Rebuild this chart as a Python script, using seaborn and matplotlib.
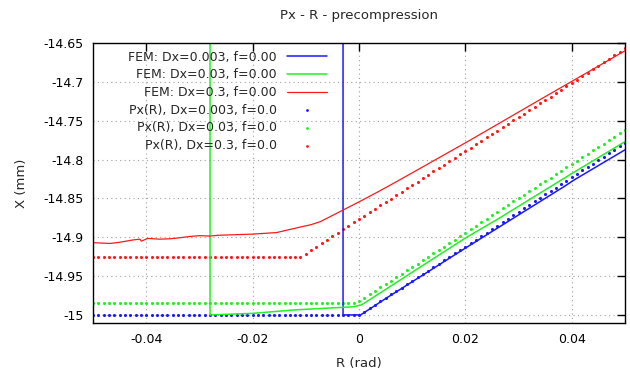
import numpy as np
import matplotlib
matplotlib.use("Agg")
import matplotlib.pyplot as plt
import seaborn as sns

# --- FEM results ---
fem_r_003 = [-0.003, -0.003, 0.0003, 0.005, 0.02, 0.0385, 0.0405, 0.05]
fem_x_003 = [-14.6, -15.0, -15.0, -14.979, -14.914, -14.835, -14.826, -14.7875]

fem_r_03 = [-0.028, -0.028, -0.02, -0.012, -0.001, 0.0005, 0.02, 0.026, 0.04, 0.05]
fem_x_03 = [-14.6, -15.0, -14.998, -14.9935, -14.9895, -14.987, -14.901, -14.877, -14.818, -14.777]

fem_r_3 = [-0.05, -0.0468, -0.045, -0.0425, -0.0412, -0.0409, -0.0397, -0.0375, -0.0355,
           -0.0335, -0.0318, -0.03, -0.028, -0.0265, -0.02, -0.0155, -0.0111, -0.009,
           -0.0073, -0.0055, -0.003, 0.0, 0.004, 0.0077, 0.0209, 0.034, 0.05]
fem_x_3 = [-14.907, -14.908, -14.9065, -14.9035, -14.9025, -14.905, -14.9015, -14.9025, -14.902,
           -14.9005, -14.899, -14.898, -14.8985, -14.8975, -14.896, -14.894, -14.887, -14.8838,
           -14.880, -14.8738, -14.865, -14.8545, -14.840, -14.826, -14.775, -14.723, -14.66]

# --- Px(R) curves, sampled every 0.001 rad ---
r_grid = np.linspace(-0.05, 0.05, 101)

px_003 = [-15.0] * 51 + [
    -14.996, -14.991, -14.987, -14.982, -14.978, -14.973, -14.969, -14.965, -14.960, -14.956,
    -14.951, -14.947, -14.943, -14.938, -14.934, -14.929, -14.925, -14.920, -14.916, -14.912,
    -14.907, -14.903, -14.898, -14.894, -14.889, -14.885, -14.881, -14.876, -14.872, -14.867,
    -14.863, -14.859, -14.854, -14.850, -14.845, -14.841, -14.836, -14.832, -14.828, -14.823,
    -14.819, -14.814, -14.810, -14.806, -14.801, -14.797, -14.792, -14.788, -14.783, -14.779]

px_03 = [-14.985] * 50 + [
    -14.982,
    -14.978, -14.973, -14.969, -14.964, -14.960, -14.956, -14.951, -14.947, -14.942, -14.938,
    -14.934, -14.929, -14.925, -14.920, -14.916, -14.912, -14.907, -14.903, -14.898, -14.894,
    -14.890, -14.885, -14.881, -14.876, -14.872, -14.868, -14.863, -14.859, -14.854, -14.850,
    -14.846, -14.841, -14.837, -14.832, -14.828, -14.824, -14.819, -14.815, -14.810, -14.806,
    -14.802, -14.797, -14.793, -14.788, -14.784, -14.780, -14.775, -14.771, -14.766, -14.762]

px_3 = [-14.926] * 39 + [
    -14.925, -14.921, -14.917, -14.912, -14.908, -14.903, -14.899, -14.895, -14.890, -14.886,
    -14.881, -14.877, -14.873, -14.868, -14.864, -14.859, -14.855, -14.851, -14.846, -14.842,
    -14.837, -14.833, -14.829, -14.824, -14.820, -14.815, -14.811, -14.807, -14.802, -14.798,
    -14.793, -14.789, -14.785, -14.780, -14.776, -14.771, -14.767, -14.763, -14.758, -14.754,
    -14.749, -14.745, -14.741, -14.736, -14.732, -14.727, -14.723, -14.719, -14.714, -14.710,
    -14.705, -14.701, -14.697, -14.692, -14.688, -14.683, -14.679, -14.675, -14.670, -14.666,
    -14.661, -14.657]

x_ticks = [-0.04, -0.02, 0, 0.02, 0.04]
x_tick_labels = ["-0.04", "-0.02", "0", "0.02", "0.04"]
y_ticks = [-15, -14.95, -14.9, -14.85, -14.8, -14.75, -14.7, -14.65]
y_tick_labels = ["-15", "-14.95", "-14.9", "-14.85", "-14.8", "-14.75", "-14.7", "-14.65"]

sns.set_style("white")
plt.rcParams['font.family'] = ['DejaVu Sans']
plt.rcParams['font.size'] = 9

fig = plt.figure(figsize=(6.3, 3.74), dpi=100)
ax = fig.add_axes([93 / 630, 1 - 323 / 374, 532 / 630, 280 / 374])

blue, green, red = '#1a1aff', '#22f022', '#ff1a1a'

sns.lineplot(x=fem_r_003, y=fem_x_003, sort=False, estimator=None, color=blue, lw=1.1,
             label='FEM: Dx=0.003, f=0.00', ax=ax)
sns.lineplot(x=fem_r_03, y=fem_x_03, sort=False, estimator=None, color=green, lw=1.1,
             label='FEM: Dx=0.03, f=0.00', ax=ax)
sns.lineplot(x=fem_r_3, y=fem_x_3, sort=False, estimator=None, color=red, lw=0.9,
             label='FEM: Dx=0.3, f=0.00', ax=ax)

sns.scatterplot(x=r_grid, y=px_003, color=blue, marker='o', s=5, linewidth=0,
                label='Px(R), Dx=0.003, f=0.0', ax=ax)
sns.scatterplot(x=r_grid, y=px_03, color=green, marker='o', s=5, linewidth=0,
                label='Px(R), Dx=0.03, f=0.0', ax=ax)
sns.scatterplot(x=r_grid, y=px_3, color=red, marker='o', s=5, linewidth=0,
                label='Px(R), Dx=0.3, f=0.0', ax=ax)

ax.set_xlim(-0.05, 0.05)
ax.set_ylim(-15.0104, -14.65)
ax.set_xticks(x_ticks)
ax.set_xticklabels(x_tick_labels)
ax.set_yticks(y_ticks)
ax.set_yticklabels(y_tick_labels)
ax.tick_params(direction='in', length=6, width=1, top=True, right=True,
               labeltop=False, labelright=False, pad=7, labelsize=9, colors='black')
ax.grid(True, color='#a0a0a0', linestyle=(0, (1, 3)), linewidth=0.8)
for s in ax.spines.values():
    s.set_color('black')
    s.set_linewidth(1)

ax.set_title('Px - R - precompression', fontsize=9.5, pad=17)
ax.set_xlabel('R (rad)', fontsize=9.5, labelpad=8)
ax.set_ylabel('X (mm)', fontsize=9.5, labelpad=11)

leg = ax.legend(loc='upper right', bbox_to_anchor=(0.44, 0.972), frameon=False,
                markerfirst=False, handlelength=3.2, handletextpad=0.8,
                labelspacing=0.37, borderpad=0, borderaxespad=0, fontsize=9,
                markerscale=0.9)

fig.savefig('out.png', dpi=100)
